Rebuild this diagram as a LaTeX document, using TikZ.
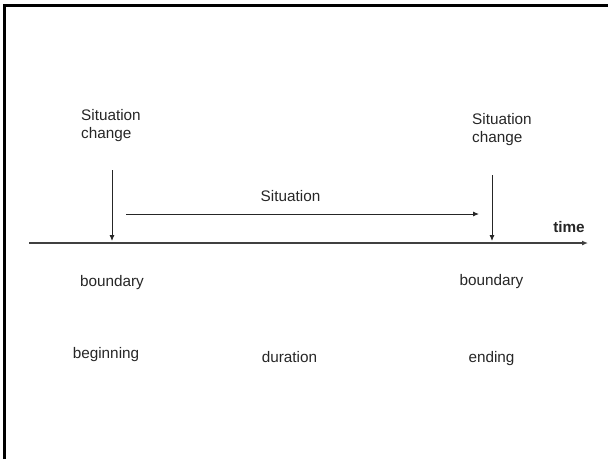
\documentclass[tikz,border=0pt]{standalone}
\usepackage{fontspec}
\setmainfont{Liberation Sans}
\usetikzlibrary{arrows.meta, positioning}

\begin{document}
\begin{tikzpicture}[x=1pt, y=-1pt,
    lbl/.style={font=\fontsize{15.3}{17.5}\selectfont, text=black!85, inner sep=0pt},
    arr/.style={-{Latex[length=6pt, width=5pt]}, line width=0.9pt, black!85}]
  \useasboundingbox (0,0) rectangle (608,459);
  % frame (top and left only)
  \draw[line width=3pt] (4.5,459) -- (4.5,5.3) -- (608,5.3);

  % time axis
  \coordinate (t0) at (29,243);
  \coordinate (t1) at (588,243);
  \draw[-{Latex[length=6pt, width=5pt]}, line width=1.3pt, black!75] (t0) -- (t1);
  \node[lbl, font=\fontsize{15.3}{17.5}\selectfont\bfseries, anchor=base] (time) at (569,232) {time};

  % situation changes
  \node[lbl, align=left, anchor=base west] (chgL) at (81,138) {Situation\\change};
  \node[lbl, align=left, anchor=base west] (chgR) at (472,142) {Situation\\change};
  \coordinate (aL) at (112,170);
  \coordinate (bL) at (112,241);
  \coordinate (aR) at (492,175);
  \coordinate (bR) at (492,241);
  \draw[arr] (aL) -- (bL);
  \draw[arr] (aR) -- (bR);

  % situation
  \coordinate (s0) at (126,214);
  \coordinate (s1) at (479,214);
  \draw[arr] (s0) -- (s1);
  \node[lbl, anchor=base] (sit) at (290.5,201) {Situation};

  % boundaries and phases
  \node[lbl, anchor=base] (bndL) at (112,286) {boundary};
  \node[lbl, anchor=base] (bndR) at (491.5,285) {boundary};
  \node[lbl, anchor=base] (beg) at (106,358) {beginning};
  \node[lbl, anchor=base] (dur) at (289.5,362) {duration};
  \node[lbl, anchor=base] (end) at (491.5,362) {ending};
\end{tikzpicture}
\end{document}
